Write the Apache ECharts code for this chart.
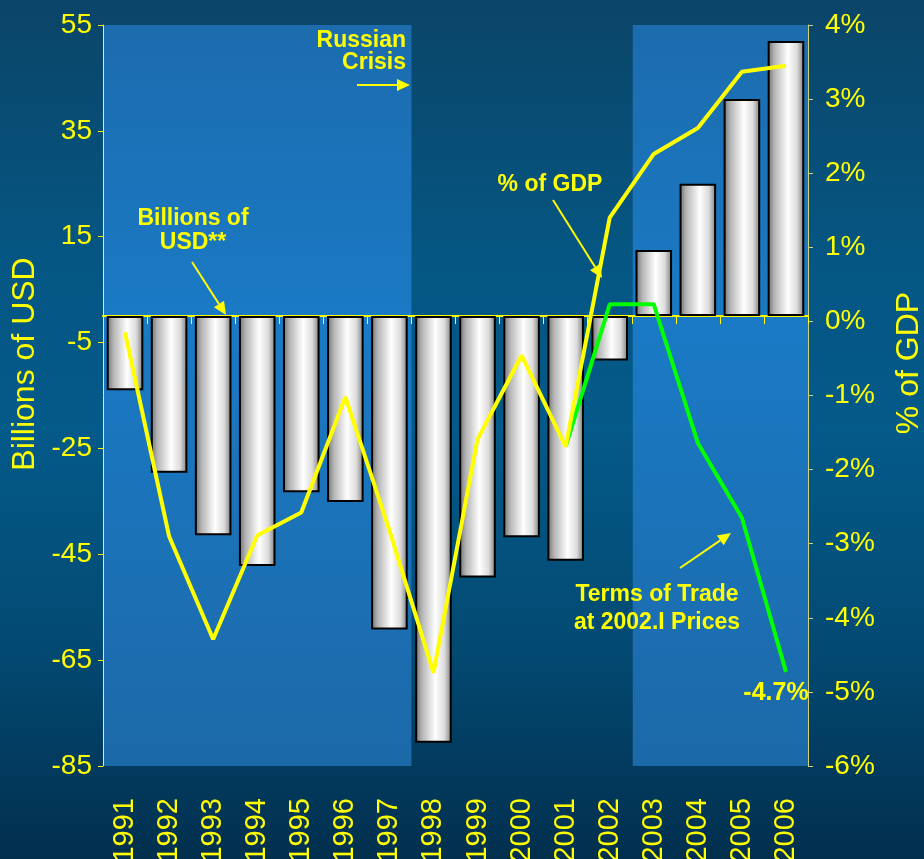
<!DOCTYPE html>
<html>
<head>
<meta charset="utf-8">
<title>Current Account Balance</title>
<script src="https://cdn.jsdelivr.net/npm/echarts@6/dist/echarts.min.js"></script>
<style>
  html, body { margin: 0; padding: 0; background: #04507c; }
  #chart { width: 924px; height: 859px; }
</style>
</head>
<body>
<div id="chart"></div>
<script>
// categories
const years = ['1991', '1992', '1993', '1994', '1995', '1996', '1997', '1998',
  '1999', '2000', '2001', '2002', '2003', '2004', '2005', '2006']

// bars, billions of USD (left axis)
const balanceUsd = [-14.0, -29.6, -41.4, -47.2, -33.3, -35.1, -59.2, -80.6,
  -49.4, -41.8, -46.2, -8.4, 12.5, 25.0, 41.0, 52.0]

// yellow line, % of GDP (right axis)
const balancePctGdp = [-0.15, -2.90, -4.29, -2.89, -2.58, -1.02, -2.82, -4.74,
  -1.59, -0.46, -1.69, 1.40, 2.26, 2.61, 3.37, 3.45]

// green line, terms of trade at 2002.I prices, % of GDP (right axis)
const termsOfTradePct = [null, null, null, null, null, null, null, null,
  null, null, -1.69, 0.23, 0.23, -1.64, -2.65, -4.73]

// axis ranges
const usdMin = -85
const usdMax = 55
const usdStep = 20
const pctMin = -6
const pctMax = 4
const pctStep = 1

// highlighted periods
const shadedPeriods = [['1991', '1997'], ['2003', '2006']]

const YELLOW = '#ffff00'
const FONT = '"Liberation Sans", Arial, sans-serif'

const chart = echarts.init(document.getElementById('chart'))

const barColor = new echarts.graphic.LinearGradient(0, 0, 1, 0, [
  { offset: 0, color: '#6e6e6e' },
  { offset: 0.18, color: '#b4b4b4' },
  { offset: 0.55, color: '#ffffff' },
  { offset: 0.8, color: '#dcdcdc' },
  { offset: 1, color: '#7a7a7a' }
])

chart.setOption({
  backgroundColor: new echarts.graphic.LinearGradient(0, 0, 0, 1, [
    { offset: 0, color: '#0b4568' },
    { offset: 0.3, color: '#055683' },
    { offset: 0.5, color: '#045a89' },
    { offset: 0.75, color: '#034a73' },
    { offset: 1, color: '#022f4e' }
  ]),
  animation: false,
  grid: {
    left: 103,
    right: 116,
    top: 25,
    bottom: 93,
    containLabel: false,
    outerBoundsMode: 'none'
  },
  xAxis: [
    {
      type: 'category',
      data: years,
      position: 'bottom',
      axisLine: { show: false, onZero: false },
      axisTick: { show: false },
      axisLabel: {
        rotate: 90,
        margin: 32,
        color: YELLOW,
        fontSize: 29,
        fontFamily: FONT
      }
    },
    {
      type: 'category',
      data: years,
      position: 'bottom',
      axisLine: {
        show: true,
        onZero: true,
        onZeroAxisIndex: 0,
        lineStyle: { color: YELLOW, width: 2 }
      },
      axisTick: { show: true, length: 8, lineStyle: { color: YELLOW } },
      axisLabel: { show: false }
    }
  ],
  yAxis: [
    {
      type: 'value',
      min: usdMin,
      max: usdMax,
      interval: usdStep,
      splitLine: { show: false },
      axisLine: { show: true, lineStyle: { color: YELLOW } },
      axisTick: { show: true, length: 5, lineStyle: { color: YELLOW } },
      axisLabel: {
        margin: 11,
        color: YELLOW,
        fontSize: 28,
        fontFamily: FONT
      }
    },
    {
      type: 'value',
      min: pctMin,
      max: pctMax,
      interval: pctStep,
      position: 'right',
      splitLine: { show: false },
      axisLine: { show: true, lineStyle: { color: '#cfd27a' } },
      axisTick: { show: true, length: 5, lineStyle: { color: '#cfd27a' } },
      axisLabel: {
        margin: 17,
        color: YELLOW,
        fontSize: 28,
        fontFamily: FONT,
        formatter: '{value}%'
      }
    }
  ],
  series: [
    {
      name: 'Billions of USD',
      type: 'bar',
      xAxisIndex: 0,
      yAxisIndex: 0,
      data: balanceUsd,
      barWidth: '83%',
      itemStyle: {
        color: barColor,
        borderColor: '#000000',
        borderWidth: 2
      },
      z: 3
    },
    {
      name: '% of GDP',
      type: 'line',
      xAxisIndex: 0,
      yAxisIndex: 1,
      data: balancePctGdp,
      symbol: 'none',
      lineStyle: { color: YELLOW, width: 4 },
      z: 5
    },
    {
      name: 'Terms of Trade',
      type: 'line',
      xAxisIndex: 0,
      yAxisIndex: 1,
      data: termsOfTradePct,
      symbol: 'none',
      lineStyle: { color: '#00ff00', width: 4 },
      z: 4
    }
  ]
})

// helpers for annotation arrows
function arrow(x1, y1, x2, y2, width) {
  const ang = Math.atan2(y2 - y1, x2 - x1)
  const len = 13
  const half = 6
  const bx = x2 - len * Math.cos(ang)
  const by = y2 - len * Math.sin(ang)
  const px = -Math.sin(ang) * half
  const py = Math.cos(ang) * half
  return [
    {
      type: 'line',
      shape: { x1: x1, y1: y1, x2: bx, y2: by },
      style: { stroke: YELLOW, lineWidth: width || 2 },
      z: 20
    },
    {
      type: 'polygon',
      shape: { points: [[x2, y2], [bx + px, by + py], [bx - px, by - py]] },
      style: { fill: YELLOW },
      z: 20
    }
  ]
}

function label(text, x, y, align, size, bold) {
  return {
    type: 'text',
    x: x,
    y: y,
    style: {
      text: text,
      fill: YELLOW,
      font: (bold ? 'bold ' : '') + size + 'px ' + FONT,
      align: align,
      verticalAlign: 'middle'
    },
    z: 20
  }
}

// shaded periods follow the category axis
const c0 = chart.convertToPixel({ xAxisIndex: 0 }, years[0])
const c1 = chart.convertToPixel({ xAxisIndex: 0 }, years[1])
const band = c1 - c0
const yTop = chart.convertToPixel({ yAxisIndex: 0 }, usdMax)
const yBottom = chart.convertToPixel({ yAxisIndex: 0 }, usdMin)

const shadeFill = new echarts.graphic.LinearGradient(0, 0, 0, 1, [
  { offset: 0, color: '#1c6cae' },
  { offset: 0.4, color: '#1a7ac5' },
  { offset: 1, color: '#1c69a8' }
])

const shades = shadedPeriods.map(function (p) {
  const xs = chart.convertToPixel({ xAxisIndex: 0 }, p[0]) - band / 2
  const xe = chart.convertToPixel({ xAxisIndex: 0 }, p[1]) + band / 2
  return {
    type: 'rect',
    shape: { x: xs + 1, y: yTop, width: xe - xs - 1, height: yBottom - yTop },
    style: { fill: shadeFill },
    silent: true,
    z: -10
  }
})

const notes = [
  label('Russian', 406, 41, 'right', 23, true),
  label('Crisis', 406, 63, 'right', 23, true),
  label('Billions of', 193, 219, 'center', 23, true),
  label('USD**', 193, 243, 'center', 23, true),
  label('% of GDP', 550, 185, 'center', 23, true),
  label('Terms of Trade', 657, 595, 'center', 23, true),
  label('at 2002.I Prices', 657, 623, 'center', 23, true),
  label('-4.7%', 776, 693, 'center', 25, true),
  {
    type: 'text',
    x: 25,
    y: 364,
    rotation: Math.PI / 2,
    style: {
      text: 'Billions of USD',
      fill: YELLOW,
      font: '32px ' + FONT,
      align: 'center',
      verticalAlign: 'middle'
    }
  },
  {
    type: 'text',
    x: 909,
    y: 363,
    rotation: Math.PI / 2,
    style: {
      text: '% of GDP',
      fill: YELLOW,
      font: '32px ' + FONT,
      align: 'center',
      verticalAlign: 'middle'
    }
  }
]
  .concat(arrow(357, 85, 410, 85, 2))
  .concat(arrow(192, 262, 226, 315, 2))
  .concat(arrow(553, 200, 602, 278, 2))
  .concat(arrow(680, 568, 731, 533, 2))

chart.setOption({
  graphic: shades.concat(notes)
})
</script>
</body>
</html>
